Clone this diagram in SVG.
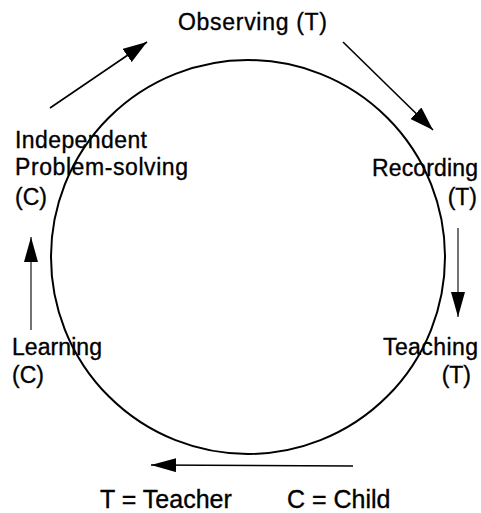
<svg xmlns="http://www.w3.org/2000/svg" width="481" height="513" viewBox="0 0 481 513">
<style>
text{font-family:"Liberation Sans",Arial,Helvetica,sans-serif;fill:#000;stroke:#000;stroke-width:0.35;font-size:23px}
.leg{font-size:25px}
.arr{fill:none;stroke:#000;stroke-width:1.6}
.thin{fill:none;stroke:#000;stroke-width:1.1}
</style>
<defs>
<marker id="ah" viewBox="0 0 24 16" refX="24" refY="8" markerWidth="24" markerHeight="16" markerUnits="userSpaceOnUse" orient="auto">
<path d="M0,0 L24,8 L0,16 z" fill="#000"/>
</marker>
<marker id="ahs" viewBox="0 0 25 14" refX="25" refY="7" markerWidth="25" markerHeight="14" markerUnits="userSpaceOnUse" orient="auto">
<path d="M0,0 L25,7 L0,14 z" fill="#000"/>
</marker>
</defs>
<g id="cycle">
<circle cx="248" cy="257" r="197" fill="none" stroke="#000" stroke-width="2"/>
</g>
<g id="connectors">
<line class="arr" x1="50" y1="108" x2="147" y2="42" marker-end="url(#ah)"/>
<line class="arr" x1="343" y1="42" x2="433" y2="130" marker-end="url(#ah)"/>
<line class="thin" x1="458" y1="228" x2="458" y2="317" marker-end="url(#ahs)"/>
<line class="arr" x1="353" y1="466" x2="151" y2="465" marker-end="url(#ahs)"/>
<line class="thin" x1="31" y1="330" x2="31" y2="237" marker-end="url(#ahs)"/>
</g>
<g id="observing">
<text x="178" y="30" textLength="149" lengthAdjust="spacing">Observing (T)</text>
</g>
<g id="recording">
<text x="372" y="176" textLength="106" lengthAdjust="spacing">Recording</text>
<text x="477" y="205" text-anchor="end">(T)</text>
</g>
<g id="teaching">
<text x="383" y="355" textLength="95" lengthAdjust="spacing">Teaching</text>
<text x="471" y="383" text-anchor="end">(T)</text>
</g>
<g id="learning">
<text x="12" y="355" textLength="90" lengthAdjust="spacing">Learning</text>
<text x="12" y="383">(C)</text>
</g>
<g id="problem-solving">
<text x="15" y="148" textLength="132" lengthAdjust="spacing">Independent</text>
<text x="15" y="175" textLength="173" lengthAdjust="spacing">Problem-solving</text>
<text x="15" y="205">(C)</text>
</g>
<g id="legend">
<text class="leg" x="100" y="508">T = Teacher</text>
<text class="leg" x="287" y="508">C = Child</text>
</g>
</svg>
